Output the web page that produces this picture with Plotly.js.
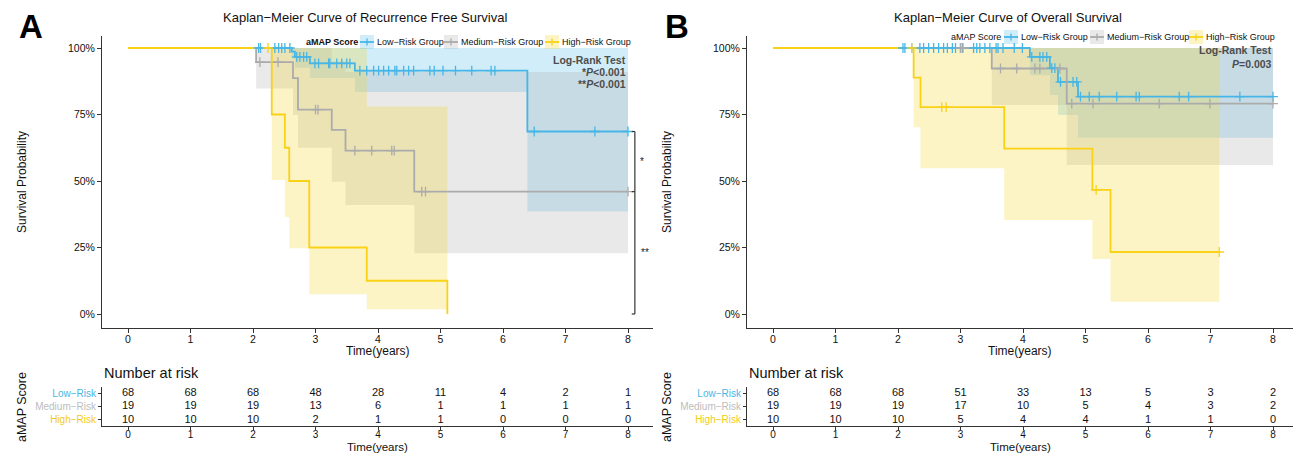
<!DOCTYPE html>
<html><head><meta charset="utf-8">
<script src="https://cdn.plot.ly/plotly-3.0.1.min.js"></script>
<style>html,body{margin:0;padding:0;background:#fff}#chart{width:1293px;height:453px}</style>
</head><body><div id="chart"></div>
<script>
// ---------- Panel A: Recurrence Free Survival ----------
const A_low_time   = [0, 2.62, 2.67, 2.91, 3.63, 6.39, 8.0];
const A_low_surv   = [100, 98.6, 96.7, 94.2, 91.5, 68.6, 68.6];
const A_low_lower  = [100, 95.9, 92.6, 88.7, 83.5, 38.5, 38.5];
const A_low_upper  = [100, 100, 100, 100, 100, 100, 100];
const A_low_censor = [2.09, 2.12, 2.35, 2.41, 2.46, 2.51, 2.59, 2.70, 2.75, 2.81, 2.86, 2.99, 3.05, 3.21, 3.23, 3.34, 3.42, 3.50, 3.55, 3.71, 3.82, 3.93, 4.01, 4.09, 4.17, 4.27, 4.30, 4.41, 4.49, 4.57, 4.83, 4.90, 5.04, 5.24, 5.50, 5.81, 5.87, 6.50, 7.47, 8.0];

const A_med_time   = [0, 2.05, 2.64, 2.72, 3.26, 3.48, 4.58, 8.0];
const A_med_surv   = [100, 94.7, 88.7, 76.8, 69.2, 61.4, 46.0, 46.0];
const A_med_lower  = [100, 84.8, 74.8, 62.5, 49.7, 41.0, 22.8, 22.8];
const A_med_upper  = [100, 100, 100, 100, 95, 91, 91, 91];
const A_med_censor = [2.11, 2.40, 3.00, 3.04, 3.63, 3.90, 4.22, 4.26, 4.70, 4.76, 8.0];

const A_high_time   = [0, 2.30, 2.51, 2.58, 2.90, 3.82, 5.11];
const A_high_surv   = [100, 75, 62.5, 50, 25, 12.5, 0];
const A_high_lower  = [100, 50.4, 36.5, 24.7, 7.4, 1.8, 0];
const A_high_upper  = [100, 100, 100, 100, 100, 78, 0];
const A_high_censor = [2.24];

// ---------- Panel B: Overall Survival ----------
const B_low_time   = [0, 4.11, 4.43, 4.56, 4.88, 8.0];
const B_low_surv   = [100, 96.7, 92.4, 87.3, 81.7, 81.7];
const B_low_lower  = [100, 89.8, 82.3, 74.8, 66.3, 66.3];
const B_low_upper  = [100, 100, 100, 100, 100, 100];
const B_low_censor = [2.08, 2.11, 2.22, 2.35, 2.41, 2.49, 2.57, 2.65, 2.73, 2.79, 2.87, 2.92, 3.00, 3.03, 3.21, 3.26, 3.31, 3.39, 3.47, 3.57, 3.60, 3.68, 3.86, 3.99, 4.14, 4.27, 4.32, 4.38, 4.46, 4.51, 4.60, 4.80, 4.86, 4.92, 5.06, 5.22, 5.50, 5.81, 5.86, 6.50, 6.65, 7.47, 8.0];

const B_med_time   = [0, 3.50, 4.70, 8.0];
const B_med_surv   = [100, 92.3, 79.1, 79.1];
const B_med_lower  = [100, 78.6, 56.0, 56.0];
const B_med_upper  = [100, 100, 100, 100];
const B_med_censor = [3.00, 3.04, 3.64, 3.90, 4.19, 4.27, 4.59, 4.78, 5.12, 6.18, 6.99, 8.0];

const B_high_time   = [0, 2.25, 2.36, 3.70, 5.11, 5.40, 7.14];
const B_high_surv   = [100, 88.9, 77.8, 62.2, 46.7, 23.3, 23.3];
const B_high_lower  = [100, 70.2, 54.8, 35.3, 20.7, 4.6, 4.6];
const B_high_upper  = [100, 100, 100, 100, 100, 100, 100];
const B_high_censor = [2.22, 2.70, 2.77, 5.17, 7.14];

// ---------- Number at risk ----------
const tick_years  = [0, 1, 2, 3, 4, 5, 6, 7, 8];
const A_risk_low  = [68, 68, 68, 48, 28, 11, 4, 2, 1];
const A_risk_med  = [19, 19, 19, 13, 6, 1, 1, 1, 1];
const A_risk_high = [10, 10, 10, 2, 1, 1, 0, 0, 0];
const B_risk_low  = [68, 68, 68, 51, 33, 13, 5, 3, 2];
const B_risk_med  = [19, 19, 19, 17, 10, 5, 4, 3, 2];
const B_risk_high = [10, 10, 10, 5, 4, 4, 1, 1, 0];

const group_names  = ['Low\u2212Risk Group', 'Medium\u2212Risk Group', 'High\u2212Risk Group'];
const row_labels   = ['Low\u2212Risk', 'Medium\u2212Risk', 'High\u2212Risk'];
const surv_ticks   = [0, 25, 50, 75, 100];
const surv_ticktxt = ['0%', '25%', '50%', '75%', '100%'];

// ---------- styling ----------
const W = 1293, H = 453;
const FONT = 'Liberation Sans, Arial, Helvetica, sans-serif';
const COL = ['#47B6E6', '#ABABAB', '#F9D217'];
const FILL = ['rgba(71,182,230,0.25)', 'rgba(170,170,170,0.26)', 'rgba(249,210,23,0.25)'];
const LBL = ['#47B6E6', '#BDBDBD', '#F5CB10'];
const fx = p => p / W;
const fy = p => 1 - p / H;

function stepAt(times, surv, t) {
  let v = surv[0];
  for (let i = 0; i < times.length; i++) if (times[i] <= t) v = surv[i];
  return v;
}

const panels = [
  { xa: 'x', ya: 'y', xt: 'x2', yt: 'y2',
    groups: [
      {t: A_low_time, s: A_low_surv, lo: A_low_lower, up: A_low_upper, c: A_low_censor},
      {t: A_med_time, s: A_med_surv, lo: A_med_lower, up: A_med_upper, c: A_med_censor},
      {t: A_high_time, s: A_high_surv, lo: A_high_lower, up: A_high_upper, c: A_high_censor}],
    risk: [A_risk_low, A_risk_med, A_risk_high] },
  { xa: 'x3', ya: 'y3', xt: 'x4', yt: 'y4',
    groups: [
      {t: B_low_time, s: B_low_surv, lo: B_low_lower, up: B_low_upper, c: B_low_censor},
      {t: B_med_time, s: B_med_surv, lo: B_med_lower, up: B_med_upper, c: B_med_censor},
      {t: B_high_time, s: B_high_surv, lo: B_high_lower, up: B_high_upper, c: B_high_censor}],
    risk: [B_risk_low, B_risk_med, B_risk_high] }
];

const traces = [];
panels.forEach(p => {
  p.groups.forEach((g, i) => {
    traces.push({x: g.t, y: g.lo, xaxis: p.xa, yaxis: p.ya, type: 'scatter', mode: 'lines',
      line: {shape: 'hv', width: 0}, hoverinfo: 'skip', showlegend: false});
    traces.push({x: g.t, y: g.up, xaxis: p.xa, yaxis: p.ya, type: 'scatter', mode: 'lines',
      line: {shape: 'hv', width: 0}, fill: 'tonexty', fillcolor: FILL[i], hoverinfo: 'skip', showlegend: false});
  });
  p.groups.forEach((g, i) => {
    traces.push({x: g.t, y: g.s, xaxis: p.xa, yaxis: p.ya, type: 'scatter', mode: 'lines',
      line: {shape: 'hv', width: 1.8, color: COL[i]}, name: group_names[i], showlegend: false});
  });
  p.groups.forEach((g, i) => {
    traces.push({x: g.c, y: g.c.map(t => stepAt(g.t, g.s, t)), xaxis: p.xa, yaxis: p.ya, type: 'scatter', mode: 'markers',
      marker: {symbol: 'cross-thin', size: 7, color: COL[i], line: {width: 1.3, color: COL[i]}}, showlegend: false, hoverinfo: 'skip'});
  });
  p.risk.forEach((r, i) => {
    traces.push({x: tick_years, y: tick_years.map(() => 3 - i), xaxis: p.xt, yaxis: p.yt, type: 'scatter', mode: 'text',
      text: r.map(String), textfont: {family: FONT, size: 11, color: '#111'}, showlegend: false, hoverinfo: 'skip'});
  });
});

const axisBase = {showline: true, linecolor: '#333', linewidth: 1, ticks: 'outside', ticklen: 4, tickcolor: '#333',
  showgrid: false, zeroline: false, fixedrange: true, tickfont: {family: FONT, size: 10.5, color: '#111'}};
const xr = (left, zero, right) => [-(zero - left) / 62.5, 8 + (right - zero - 500) / 62.5];
const plotY = [fy(328), fy(36)], yRange = [-(328 - 314) / 2.66, 100 + (48 - 36) / 2.66];
const tabY = [fy(426), fy(387)], tabRange = [0.54, 3.46];
const rowTick = row_labels.map((t, i) => '<span style="color:' + LBL[i] + '">' + t + '</span>');
const xTick = {tickvals: tick_years, ticklabelstandoff: -3};
const xTabTick = {tickvals: tick_years, ticklabelstandoff: -4, ticklen: 3, tickfont: {family: FONT, size: 10, color: '#111'}};

const layout = {
  width: W, height: H, margin: {l: 0, r: 0, t: 0, b: 0}, paper_bgcolor: '#fff', plot_bgcolor: 'rgba(0,0,0,0)',
  showlegend: false, font: {family: FONT},
  xaxis:  Object.assign({}, axisBase, xTick, {domain: [fx(102), fx(653)], range: xr(102, 128, 653), anchor: 'y'}),
  yaxis:  Object.assign({}, axisBase, {domain: plotY, range: yRange, anchor: 'x', tickvals: surv_ticks, ticktext: surv_ticktxt}),
  xaxis2: Object.assign({}, axisBase, xTabTick, {domain: [fx(102), fx(653)], range: xr(102, 128, 653), anchor: 'y2'}),
  yaxis2: Object.assign({}, axisBase, {domain: tabY, range: tabRange, anchor: 'x2', tickvals: [3, 2, 1], ticktext: rowTick, ticklen: 3, tickfont: {family: FONT, size: 10}}),
  xaxis3: Object.assign({}, axisBase, xTick, {domain: [fx(747), 1], range: xr(747, 773, 1293), anchor: 'y3'}),
  yaxis3: Object.assign({}, axisBase, {domain: plotY, range: yRange, anchor: 'x3', tickvals: surv_ticks, ticktext: surv_ticktxt}),
  xaxis4: Object.assign({}, axisBase, xTabTick, {domain: [fx(747), 1], range: xr(747, 773, 1293), anchor: 'y4'}),
  yaxis4: Object.assign({}, axisBase, {domain: tabY, range: tabRange, anchor: 'x4', tickvals: [3, 2, 1], ticktext: rowTick, ticklen: 3, tickfont: {family: FONT, size: 10}}),
  annotations: [], shapes: []
};

function ann(x, y, text, o) {
  o = o || {};
  layout.annotations.push({xref: 'paper', yref: 'paper', x: fx(x), y: fy(y), text: text, showarrow: false,
    xanchor: o.xa || 'center', yanchor: 'middle', textangle: o.rot || 0,
    font: {family: FONT, size: o.size || 12, color: o.color || '#111'}});
}

// panel letters & titles
ann(31, 27, '<b>A</b>', {size: 33, color: '#000'});
ann(677, 27, '<b>B</b>', {size: 33, color: '#000'});
ann(365, 18, 'Kaplan\u2212Meier Curve of Recurrence Free Survival', {size: 13});
ann(1008, 18, 'Kaplan\u2212Meier Curve of Overall Survival', {size: 13});

// axis titles
[[0, 102, 653], [645, 747, 1293]].forEach(([off, l, r]) => {
  const cx = (l + r) / 2;
  ann(22 + off, 182, 'Survival Probability', {rot: -90, size: 12});
  ann(cx, 351, 'Time(years)', {size: 12});
  ann(cx, 446.5, 'Time(years)', {size: 11.5});
  ann(22 + off, 407, 'aMAP Score', {rot: -90, size: 12.5});
  ann(l, 373, 'Number at risk', {xa: 'left', size: 14.5});
});

// log-rank texts
ann(628, 60, '<b>Log-Rank Test</b>', {xa: 'right', size: 10.5, color: '#4D4D4D'});
ann(628, 72, '<b>*<i>P</i>&lt;0.001</b>', {xa: 'right', size: 10.5, color: '#4D4D4D'});
ann(628, 84, '<b>**<i>P</i>&lt;0.001</b>', {xa: 'right', size: 10.5, color: '#4D4D4D'});
ann(1274, 50, '<b>Log-Rank Test</b>', {xa: 'right', size: 10.5, color: '#4D4D4D'});
ann(1274, 64, '<b><i>P</i>=0.003</b>', {xa: 'right', size: 10.5, color: '#4D4D4D'});

// legends (drawn manually)
function legend(yc, titleRight, keys, bold) {
  ann(titleRight, yc, bold ? '<b>aMAP Score</b>' : 'aMAP Score', {xa: 'right', size: 9});
  keys.forEach((k, i) => {
    layout.shapes.push({type: 'rect', xref: 'paper', yref: 'paper', x0: fx(k), x1: fx(k + 14), y0: fy(yc + 7), y1: fy(yc - 7),
      fillcolor: FILL[i], line: {width: 0}, layer: 'above'});
    layout.shapes.push({type: 'line', xref: 'paper', yref: 'paper', x0: fx(k), x1: fx(k + 14), y0: fy(yc), y1: fy(yc),
      line: {color: COL[i], width: 1.8}, layer: 'above'});
    layout.shapes.push({type: 'line', xref: 'paper', yref: 'paper', x0: fx(k + 7), x1: fx(k + 7), y0: fy(yc - 3.5), y1: fy(yc + 3.5),
      line: {color: COL[i], width: 1.3}, layer: 'above'});
    ann(k + 14.5, yc, group_names[i], {xa: 'left', size: 9});
  });
}
legend(42, 360, [360, 444, 545], true);
legend(37, 1003, [1004, 1090, 1189], false);

// significance bracket in panel A
const yTop = A_low_surv[A_low_surv.length - 1];
const yMid = A_med_surv[A_med_surv.length - 1];
const yBot = A_high_surv[A_high_surv.length - 1];
const bx = 8.11, bt = 8.06;
layout.shapes.push({type: 'line', xref: 'x', yref: 'y', x0: bx, x1: bx, y0: yTop, y1: yBot, line: {color: '#333', width: 1.2}});
[yTop, yMid, yBot].forEach(v => layout.shapes.push({type: 'line', xref: 'x', yref: 'y', x0: bt, x1: bx, y0: v, y1: v, line: {color: '#333', width: 1.2}}));
layout.annotations.push({xref: 'x', yref: 'y', x: 8.23, y: (yTop + yMid) / 2, text: '*', showarrow: false, font: {family: FONT, size: 10, color: '#222'}});
layout.annotations.push({xref: 'x', yref: 'y', x: 8.27, y: (yMid + yBot) / 2, text: '**', showarrow: false, font: {family: FONT, size: 10, color: '#222'}});

Plotly.newPlot('chart', traces, layout, {displayModeBar: false, staticPlot: true});
</script></body></html>
